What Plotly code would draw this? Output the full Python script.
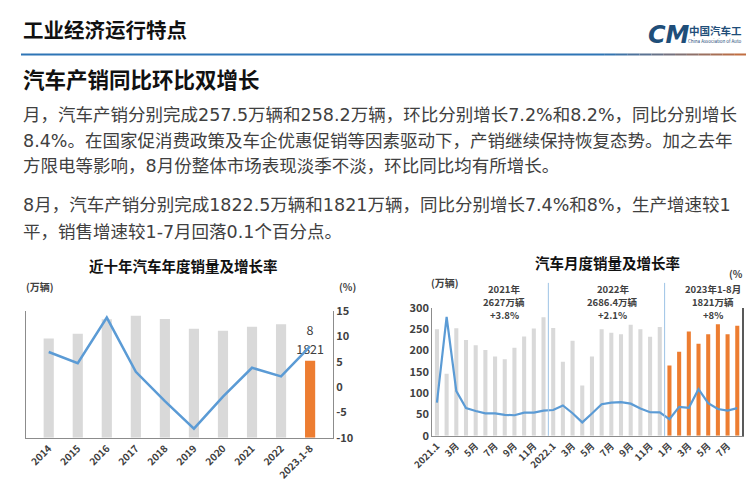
import plotly.graph_objects as go

W, H = 746, 497
def px(x): return x / W
def py(y): return 1 - y / H

# ---------------- data ----------------
years = ["2014", "2015", "2016", "2017", "2018", "2019", "2020", "2021", "2022", "2023.1-8"]
annual_sales = [2349, 2460, 2803, 2888, 2808, 2577, 2531, 2627, 2686, 1821]   # 万辆
annual_growth = [6.9, 4.7, 13.7, 3.0, -2.8, -8.2, -1.9, 3.8, 2.1, 8.0]         # %
growth_tickvals = [-10, -5, 0, 5, 10, 15]
growth_ticktext = ["-10", "-5", "0", "5", "10", "15"]

months = ["2021.1", "2021.2", "2021.3", "2021.4", "2021.5", "2021.6", "2021.7", "2021.8",
          "2021.9", "2021.10", "2021.11", "2021.12",
          "2022.1", "2022.2", "2022.3", "2022.4", "2022.5", "2022.6", "2022.7", "2022.8",
          "2022.9", "2022.10", "2022.11", "2022.12",
          "2023.1", "2023.2", "2023.3", "2023.4", "2023.5", "2023.6", "2023.7", "2023.8"]
monthly_sales = [250.3, 145.5, 252.6, 225.2, 212.8, 201.5, 186.4, 179.9, 206.7, 233.2, 252.2, 278.6,
                 253.1, 173.7, 223.4, 118.1, 186.2, 250.2, 242.0, 238.3, 261.0, 250.5, 232.7, 255.6,
                 164.9, 197.6, 245.1, 215.9, 238.2, 262.2, 238.7, 258.2]
monthly_growth = [29.5, 365.0, 74.9, 8.6, -3.1, -12.4, -11.9, -17.8, -19.6, -9.4, -9.1, -1.6,
                  0.9, 18.7, -11.7, -47.6, -12.6, 23.8, 29.7, 32.1, 25.7, 6.9, -7.9, -8.4,
                  -35.0, 13.5, 9.7, 82.7, 27.9, 4.8, -1.4, 8.2]
month_tickvals = ["2021.1", "2021.3", "2021.5", "2021.7", "2021.9", "2021.11",
                  "2022.1", "2022.3", "2022.5", "2022.7", "2022.9", "2022.11",
                  "2023.1", "2023.3", "2023.5", "2023.7"]
month_ticktext = ["2021.1", "3月", "5月", "7月", "9月", "11月",
                  "2022.1", "3月", "5月", "7月", "9月", "11月",
                  "1月", "3月", "5月", "7月"]
period_titles = ["2021年", "2022年", "2023年1-8月"]
period_totals = ["2627万辆", "2686.4万辆", "1821万辆"]
period_growth = ["+3.8%", "+2.1%", "+8%"]

page_title = "工业经济运行特点"
section_title = "汽车产销同比环比双增长"
paragraph_lines = [
    "月，汽车产销分别完成257.5万辆和258.2万辆，环比分别增长7.2%和8.2%，同比分别增长",
    "8.4%。在国家促消费政策及车企优惠促销等因素驱动下，产销继续保持恢复态势。加之去年",
    "方限电等影响，8月份整体市场表现淡季不淡，环比同比均有所增长。",
    "8月，汽车产销分别完成1822.5万辆和1821万辆，同比分别增长7.4%和8%，生产增速较1",
    "平，销售增速较1-7月回落0.1个百分点。",
]

# ---------------- style ----------------
GRAY = "#d9d9d9"
ORANGE = "#ed7d31"
BLUE = "#5b9bd5"
AXIS = "#8c8c8c"
TXT = "#404040"
CJK = "Noto Sans CJK SC"
MIX = "DejaVu Sans, Noto Sans CJK SC, sans-serif"

fig = go.Figure()

# ---- left chart ----
fig.add_trace(go.Bar(
    x=years, y=annual_sales, xaxis="x", yaxis="y", width=0.35,
    marker=dict(color=[ORANGE if y.startswith("2023") else GRAY for y in years], line_width=0),
    text=[f"{v}" if i == len(years) - 1 else "" for i, v in enumerate(annual_sales)],
    textposition="outside", cliponaxis=False, constraintext="none",
    textfont=dict(family=CJK, size=12.5, color=TXT), showlegend=False, hoverinfo="skip"))
fig.add_trace(go.Scatter(
    x=years, y=annual_growth, xaxis="x", yaxis="y2", mode="lines+markers+text",
    line=dict(color=BLUE, width=2.5), marker=dict(size=12, color="rgba(0,0,0,0)"),
    text=[f"{v:g}" if i == len(years) - 1 else "" for i, v in enumerate(annual_growth)],
    textposition="top center", cliponaxis=False,
    textfont=dict(family=CJK, size=12.5, color=TXT), showlegend=False, hoverinfo="skip"))

# ---- right chart ----
fig.add_trace(go.Bar(
    x=months, y=monthly_sales, xaxis="x2", yaxis="y3", width=0.42,
    marker=dict(color=[ORANGE if m.startswith("2023") else GRAY for m in months], line_width=0),
    showlegend=False, hoverinfo="skip"))
fig.add_trace(go.Scatter(
    x=months, y=monthly_growth, xaxis="x2", yaxis="y4", mode="lines",
    line=dict(color=BLUE, width=2.2), showlegend=False, hoverinfo="skip"))

tickf = dict(family=CJK, size=11, color=TXT, weight="bold")
fig.update_layout(
    width=W, height=H, margin=dict(l=0, r=0, t=0, b=0),
    paper_bgcolor="white", plot_bgcolor="rgba(0,0,0,0)",
    xaxis=dict(domain=[px(5), px(321)], anchor="y", showline=True, linecolor=AXIS, linewidth=1,
               ticks="", tickangle=-45, tickfont=dict(family=CJK, size=10, color=TXT, weight="bold"),
               showgrid=False),
    yaxis=dict(domain=[py(443), py(312)], anchor="x", range=[0, 3000], showline=True,
               linecolor=AXIS, linewidth=1, showticklabels=False, ticks="", showgrid=False,
               zeroline=False),
    yaxis2=dict(overlaying="y", side="right", anchor="x", range=[-10, 15],
                tickmode="array", tickvals=growth_tickvals, ticktext=growth_ticktext,
                showline=True, linecolor=AXIS, linewidth=1, ticks="", tickfont=tickf,
                showgrid=False, zeroline=False),
    xaxis2=dict(domain=[px(423), px(742)], anchor="y3", showline=True, linecolor=AXIS, linewidth=1,
                ticks="", tickangle=-45, tickmode="array", tickvals=month_tickvals,
                ticktext=month_ticktext,
                tickfont=dict(family=CJK, size=9.5, color=TXT, weight="bold"), showgrid=False),
    yaxis3=dict(domain=[py(441), py(309)], anchor="x2", range=[0, 300], dtick=50,
                showline=True, linecolor=AXIS, linewidth=1, ticks="", tickfont=tickf,
                showgrid=False, zeroline=False),
    yaxis4=dict(overlaying="y3", side="right", anchor="x2", range=[-100, 400],
                showline=True, linecolor="#595959", linewidth=1.5, showticklabels=False,
                ticks="", showgrid=False, zeroline=False),
    bargap=0.5,
)

shapes = []
# year separators in monthly chart
for i in range(1, len(months)):
    if months[i].split(".")[0] != months[i - 1].split(".")[0]:
        shapes.append(dict(type="line", xref="x2", yref="paper", x0=i - 0.5, x1=i - 0.5,
                           y0=py(441), y1=py(283), line=dict(color="#9dc3e6", width=1)))
# header rule with blue→orange fade on the right
shapes.append(dict(type="line", xref="paper", yref="paper", x0=0, x1=px(600), y0=py(47), y1=py(47),
                   line=dict(color="#2e75b6", width=2)))
c0, c1 = (46, 117, 182), (200, 110, 60)
nseg = 12
for k in range(nseg):
    t = (k + 0.5) / nseg
    col = "rgb(%d,%d,%d)" % tuple(int(a + (b - a) * t) for a, b in zip(c0, c1))
    xa = 600 + (746 - 600) * k / nseg
    xb = 600 + (746 - 600) * (k + 1) / nseg
    shapes.append(dict(type="line", xref="paper", yref="paper", x0=px(xa), x1=px(xb),
                       y0=py(47), y1=py(47), line=dict(color=col, width=2)))

ann = []
def add(text, x, y, size, color=TXT, bold=False, xanchor="left", family=CJK, angle=0, yanchor="middle"):
    ann.append(dict(text=text, x=px(x), y=py(y), xref="paper", yref="paper", showarrow=False,
                    xanchor=xanchor, yanchor=yanchor, textangle=angle,
                    font=dict(family=family, size=size, color=color,
                              weight="bold" if bold else "normal")))

add(page_title, 0, 21, 20.5, color="#111111", bold=True)
add(section_title, 0, 72, 21.5, color="#111111", bold=True)
for txt, yy in zip(paragraph_lines, [110, 136, 162, 203, 230]):
    add(txt, 0, yy, 17.5, color=TXT, family=MIX)

# logo (cropped at the page edge in the reference)
add("<i>CM</i>", 667, 27, 24, color="#1f4e79", bold=True, xanchor="center", family="DejaVu Sans")
add("中国汽车工", 744, 22, 10.5, color="#1f4e79", bold=True, xanchor="right")
add("China Association of Auto", 744, 33, 4.5, color="#1f4e79", xanchor="right")

# chart titles / units
add("近十年汽车年度销量及增长率", 167, 265, 14.5, color="#111111", bold=True, xanchor="center")
add("(万辆)", 3, 287, 10, bold=True)
add("(%)", 325, 287, 10, bold=True)
add("汽车月度销量及增长率", 603, 262, 14.5, color="#111111", bold=True, xanchor="center")
add("(万辆)", 420, 283, 10, bold=True)
add("(%", 745, 273, 10, bold=True, xanchor="right")
for cx, a, b, c in zip([497, 609, 712], period_titles, period_totals, period_growth):
    add(a, cx, 289, 9.5, bold=True, xanchor="center")
    add(b, cx, 302.5, 9.5, bold=True, xanchor="center")
    add(c, cx, 316, 9.5, bold=True, xanchor="center")

fig.update_layout(shapes=shapes, annotations=ann)
fig.write_html("out.html")
